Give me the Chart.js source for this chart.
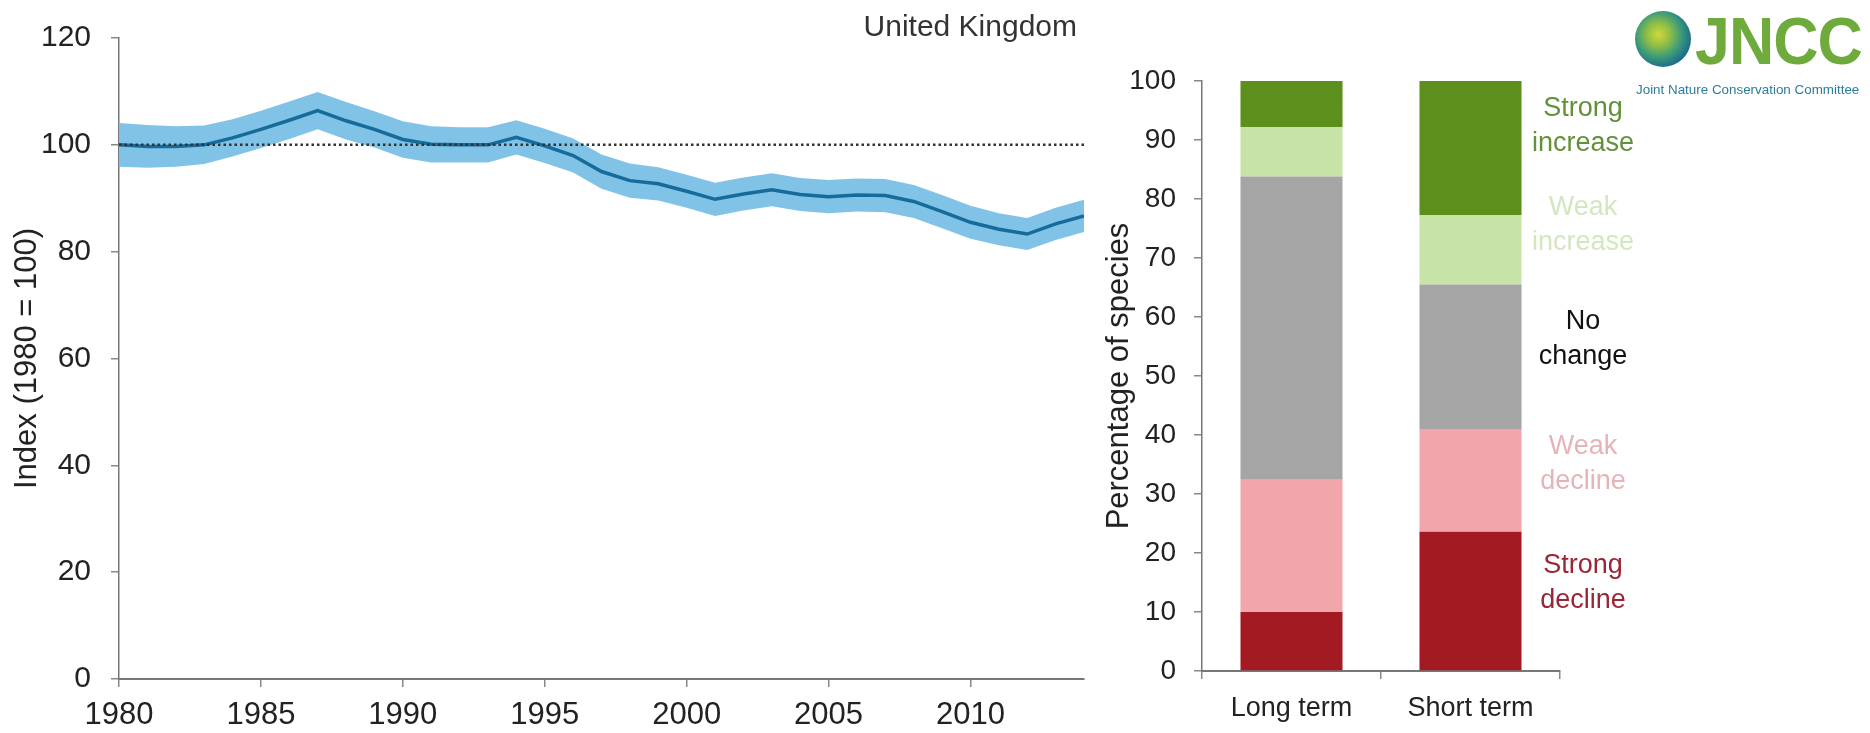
<!DOCTYPE html>
<html>
<head>
<meta charset="utf-8">
<script src="https://cdn.jsdelivr.net/npm/chart.js@4.4.1/dist/chart.umd.min.js"></script>
<style>
html,body{margin:0;padding:0;background:#fff;}
#wrap{position:relative;width:1870px;height:733px;overflow:hidden;font-family:"Liberation Sans",Arial,sans-serif;background:#fff;}
#c1{position:absolute;left:0;top:0;}
#c2{position:absolute;left:1090px;top:0;}
#uk{position:absolute;right:793px;top:11px;font-size:30px;line-height:30px;color:#333;white-space:nowrap;}
#globe{position:absolute;left:1635px;top:11px;width:56px;height:56px;border-radius:50%;
  background:radial-gradient(circle at 42% 42%, #d2d83a 0%, #8fbf45 25%, #3b9a7a 50%, #1d6d8a 72%, #175a78 100%);}
#jncc{position:absolute;left:1695px;top:8px;font-size:66px;line-height:66px;font-weight:bold;color:#6fab3c;transform:scaleX(0.95);transform-origin:left top;white-space:nowrap;letter-spacing:-1px;}
#jnccsub{position:absolute;left:1636px;top:83px;font-size:13.4px;line-height:14px;color:#2a7d9c;white-space:nowrap;}
</style>
</head>
<body>
<div id="wrap">
  <canvas id="c1" width="1100" height="733"></canvas>
  <canvas id="c2" width="570" height="733"></canvas>
  <div id="uk">United Kingdom</div>
  <div id="globe"></div>
  <div id="jncc">JNCC</div>
  <div id="jnccsub">Joint Nature Conservation Committee</div>
</div>
<script>
// ---------- Left chart data ----------
const years = [1980,1981,1982,1983,1984,1985,1986,1987,1988,1989,1990,1991,1992,1993,1994,1995,1996,1997,1998,1999,2000,2001,2002,2003,2004,2005,2006,2007,2008,2009,2010,2011,2012,2013,2014];
const indexValues = [100.0,99.7,99.7,100.0,101.3,102.9,104.6,106.4,104.5,102.9,101.0,100.1,100.0,100.0,101.4,99.8,98.0,95.0,93.3,92.7,91.3,89.8,90.8,91.6,90.7,90.3,90.6,90.5,89.4,87.5,85.5,84.2,83.3,85.2,86.7];
const upperCI = [104.1,103.7,103.5,103.6,104.8,106.4,108.1,109.9,108.0,106.3,104.4,103.5,103.3,103.3,104.6,103.0,101.2,98.2,96.5,95.8,94.4,92.9,93.9,94.7,93.8,93.4,93.7,93.6,92.5,90.6,88.6,87.2,86.3,88.2,89.7];
const lowerCI = [95.9,95.7,95.9,96.4,97.8,99.4,101.1,102.9,101.0,99.5,97.6,96.7,96.7,96.7,98.2,96.6,94.8,91.8,90.1,89.6,88.2,86.7,87.7,88.5,87.6,87.2,87.5,87.4,86.3,84.4,82.4,81.2,80.3,82.2,83.7];
const baselineValue = 100;
const xTickYears = [1980,1985,1990,1995,2000,2005,2010];
const yTicksIndex = [0,20,40,60,80,100,120];

// ---------- Right chart data ----------
const categories = ['Long term','Short term'];
const strongDecline = [10.0, 23.6];
const weakDecline = [22.4, 17.3];
const noChange = [51.4, 24.6];
const weakIncrease = [8.4, 11.8];
const strongIncrease = [7.8, 22.7];
const pctTicks = [0,10,20,30,40,50,60,70,80,90,100];
const trendLabels = [['Strong','increase'],['Weak','increase'],['No','change'],['Weak','decline'],['Strong','decline']];
const trendLabelY = [92.4, 75.6, 56.3, 35.0, 14.9];

const FONT = '"Liberation Sans", Arial, sans-serif';
Chart.defaults.font.family = FONT;

const pts = arr => years.map((yr, i) => ({x: yr, y: arr[i]}));

new Chart(document.getElementById('c1'), {
  type: 'line',
  data: {
    datasets: [
      {label:'baseline', data:[{x:years[0], y:baselineValue},{x:years[years.length-1], y:baselineValue}],
       borderColor:'#333', borderWidth:2.5, borderDash:[2.5,3], pointRadius:0, fill:false, order:0},
      {label:'index', data: pts(indexValues), borderColor:'#176b9b', borderWidth:3.5, pointRadius:0, fill:false, order:1},
      {label:'upper', data: pts(upperCI), borderWidth:0, borderColor:'rgba(0,0,0,0)', backgroundColor:'#80c3e7', pointRadius:0, fill:'+1', order:2},
      {label:'lower', data: pts(lowerCI), borderWidth:0, borderColor:'rgba(0,0,0,0)', pointRadius:0, fill:false, order:3}
    ]
  },
  options: {
    responsive:false, animation:false, devicePixelRatio:1,
    layout:{padding:{left:0, right:16, top:34, bottom:0}},
    plugins:{legend:{display:false}, tooltip:{enabled:false}},
    scales:{
      x:{type:'linear', min:years[0], max:years[years.length-1],
         afterBuildTicks: s => { s.ticks = xTickYears.map(v => ({value:v})); },
         afterFit: s => { s.height = 54; },
         grid:{drawOnChartArea:false, drawTicks:true, tickLength:8, color:'#888', lineWidth:1.5},
         border:{display:true, color:'#777', width:2},
         ticks:{font:{size:31}, color:'#222', padding:10, maxRotation:0, autoSkip:false, callback: v => String(v)}},
      y:{min:0, max:120,
         afterBuildTicks: s => { s.ticks = yTicksIndex.map(v => ({value:v})); },
         afterFit: s => { s.width = 119; },
         grid:{drawOnChartArea:false, drawTicks:true, tickLength:8, color:'#888', lineWidth:1.5},
         border:{display:true, color:'#777', width:1.5},
         ticks:{font:{size:30}, color:'#222', padding:20, callback: v => String(v)},
         title:{display:true, text:'Index (1980 = 100)', font:{size:31}, color:'#222', padding:{top:9, bottom:0}}}
    }
  }
});

const trendLabelColors = ['#62913a','#d2e7bf','#111111','#e6b4b8','#9a2535'];
const trendLabelPlugin = {
  id:'trendLabels',
  afterDatasetsDraw(chart){
    const {ctx, chartArea, scales} = chart;
    ctx.save();
    ctx.font = '27px ' + FONT;
    ctx.textAlign = 'center';
    ctx.textBaseline = 'middle';
    trendLabels.forEach((lines, i) => {
      const cy = scales.y.getPixelForValue(trendLabelY[i]);
      ctx.fillStyle = trendLabelColors[i];
      lines.forEach((t, j) => ctx.fillText(t, chartArea.right + 23, cy + (j - (lines.length - 1) / 2) * 35));
    });
    ctx.restore();
  }
};

new Chart(document.getElementById('c2'), {
  type:'bar',
  data:{
    labels: categories,
    datasets:[
      {label:'Strong decline', data: strongDecline, backgroundColor:'#a31a22'},
      {label:'Weak decline', data: weakDecline, backgroundColor:'#f0a6aa'},
      {label:'No change', data: noChange, backgroundColor:'#a5a5a5'},
      {label:'Weak increase', data: weakIncrease, backgroundColor:'#c8e3a8'},
      {label:'Strong increase', data: strongIncrease, backgroundColor:'#5c8f1c'}
    ]
  },
  options:{
    responsive:false, animation:false, devicePixelRatio:1,
    layout:{padding:{left:0, right:100, top:81, bottom:0}},
    datasets:{bar:{barPercentage:0.57, categoryPercentage:1.0, borderWidth:0}},
    plugins:{legend:{display:false}, tooltip:{enabled:false}},
    scales:{
      x:{stacked:true,
         afterFit: s => { s.height = 62; },
         grid:{offset:true, drawOnChartArea:false, drawTicks:true, tickLength:8, color:'#888', lineWidth:1.5},
         border:{display:true, color:'#777', width:2},
         ticks:{font:{size:27}, color:'#222', padding:13}},
      y:{stacked:true, min:0, max:100,
         afterBuildTicks: s => { s.ticks = pctTicks.map(v => ({value:v})); },
         afterFit: s => { s.width = 112; },
         grid:{drawOnChartArea:false, drawTicks:true, tickLength:8, color:'#888', lineWidth:1.5},
         border:{display:true, color:'#777', width:1.5},
         ticks:{font:{size:28}, color:'#222', padding:18},
         title:{display:true, text:'Percentage of species', font:{size:31}, color:'#222', padding:{top:11, bottom:0}}}
    }
  },
  plugins:[trendLabelPlugin]
});
</script>
</body>
</html>
